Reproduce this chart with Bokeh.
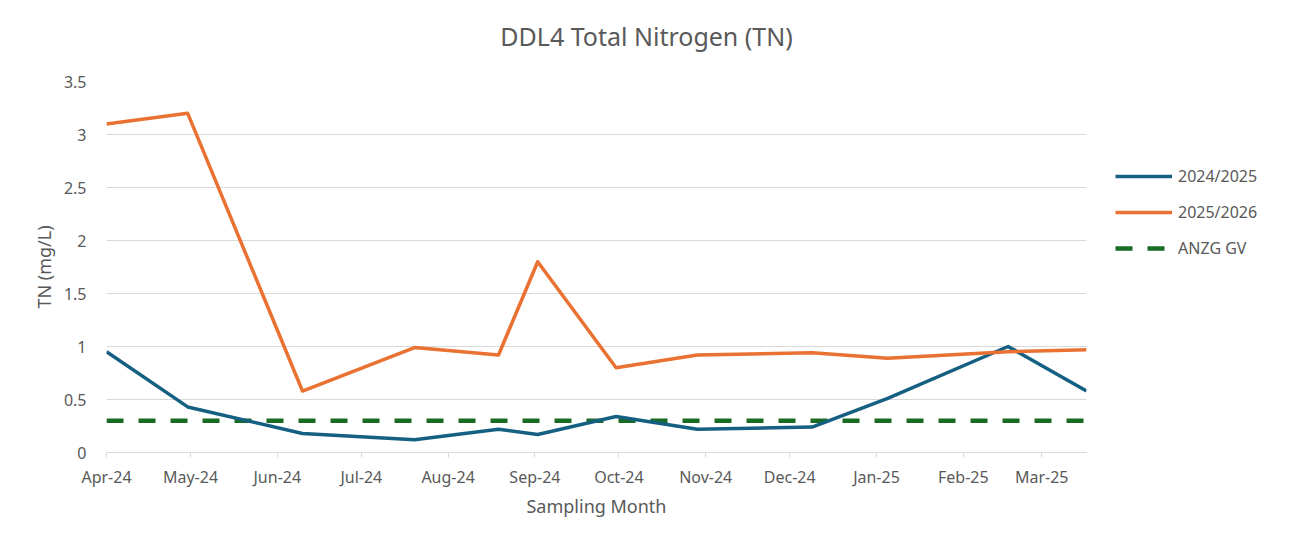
from datetime import datetime
from bokeh.plotting import figure
from bokeh.models import (ColumnDataSource, Range1d, FixedTicker, DatetimeTickFormatter,
                          NumeralTickFormatter, Legend, LegendItem, Label)
from bokeh.embed import file_html
from bokeh.resources import INLINE

# ---------------- data ----------------
sample_dates = ["2024-04-01", "2024-04-30", "2024-06-10", "2024-07-20", "2024-08-19",
                "2024-09-02", "2024-09-30", "2024-10-29", "2024-12-09", "2025-01-05",
                "2025-02-17", "2025-03-17"]
tn_2024_2025 = [0.95, 0.43, 0.18, 0.12, 0.22, 0.17, 0.34, 0.22, 0.24, 0.51, 1.00, 0.58]
tn_2025_2026 = [3.10, 3.20, 0.58, 0.99, 0.92, 1.80, 0.80, 0.92, 0.94, 0.89, 0.95, 0.97]
anzg_gv = 0.3
month_ticks = ["2024-04-01", "2024-05-01", "2024-06-01", "2024-07-01", "2024-08-01",
               "2024-09-01", "2024-10-01", "2024-11-01", "2024-12-01", "2025-01-01",
               "2025-02-01", "2025-03-01"]
y_ticks = [0, 0.5, 1, 1.5, 2, 2.5, 3, 3.5]

series_names = ["2024/2025", "2025/2026", "ANZG GV"]
title_text = "DDL4 Total Nitrogen (TN)"
x_title = "Sampling Month"
y_title = "TN (mg/L)"

# ---------------- helpers ----------------
def to_dt(s):
    return datetime.strptime(s, "%Y-%m-%d")

def to_ms(s):
    d = to_dt(s)
    return (d - datetime(1970, 1, 1)).total_seconds() * 1000.0

dates = [to_dt(s) for s in sample_dates]
src = ColumnDataSource(dict(
    date=dates,
    tn_a=tn_2024_2025,
    tn_b=tn_2025_2026,
    gv=[anzg_gv] * len(dates),
))

FONT = "Noto Sans"
TXT = "#595959"
GRID = "#D9D9D9"
BLUE = "#156082"
ORANGE = "#E97132"
GREEN = "#196B24"

p = figure(
    x_axis_type="datetime",
    frame_width=980, frame_height=371,
    min_border_left=106, min_border_right=188, min_border_top=81, min_border_bottom=85,
    x_range=Range1d(dates[0], dates[-1]),
    y_range=Range1d(0, 3.5),
    output_backend="svg", toolbar_location=None,
    background_fill_color="white", border_fill_color="white",
)
p.outline_line_color = None

# title, placed in the panel above the plot area, centred on the whole chart
p.add_layout(Label(x=540, y=46, x_units="screen", y_units="screen", text=title_text,
                   text_font=FONT, text_font_size="25px", text_color=TXT,
                   text_align="center", text_baseline="middle"), "above")

# lines
r_gv = p.line("date", "gv", source=src, line_color=GREEN, line_width=4.5, line_dash="17 15")
r_a = p.line("date", "tn_a", source=src, line_color=BLUE, line_width=3.5, line_join="round")
r_b = p.line("date", "tn_b", source=src, line_color=ORANGE, line_width=3.5, line_join="round")

# x axis
xa = p.xaxis[0]
xa.ticker = FixedTicker(ticks=[to_ms(s) for s in month_ticks])
fmt = "%b-%y"
xa.formatter = DatetimeTickFormatter(days=fmt, months=fmt, years=fmt, hours=fmt,
                                     hourmin=fmt, minutes=fmt, minsec=fmt,
                                     seconds=fmt, milliseconds=fmt, microseconds=fmt)
xa.axis_line_color = GRID
xa.major_tick_line_color = GRID
xa.major_tick_out = 5
xa.major_tick_in = 0
xa.minor_tick_line_color = None
xa.major_label_text_font = FONT
xa.major_label_text_font_size = "16px"
xa.major_label_text_color = TXT
xa.major_label_standoff = 8
xa.axis_label = x_title
xa.axis_label_text_font = FONT
xa.axis_label_text_font_size = "18px"
xa.axis_label_text_font_style = "normal"
xa.axis_label_text_color = TXT
xa.axis_label_standoff = 3

# y axis
ya = p.yaxis[0]
ya.ticker = FixedTicker(ticks=y_ticks)
ya.formatter = NumeralTickFormatter(format="0.[0]")
ya.axis_line_color = None
ya.major_tick_line_color = None
ya.minor_tick_line_color = None
ya.major_label_text_font = FONT
ya.major_label_text_font_size = "16px"
ya.major_label_text_color = TXT
ya.major_label_standoff = 14
ya.axis_label = y_title
ya.axis_label_text_font = FONT
ya.axis_label_text_font_size = "18px"
ya.axis_label_text_font_style = "normal"
ya.axis_label_text_color = TXT
ya.axis_label_standoff = 5

# grid
p.xgrid.grid_line_color = None
p.ygrid.grid_line_color = GRID
p.ygrid.grid_line_width = 1

# legend (in the right-hand panel)
legend = Legend(items=[LegendItem(label=series_names[0], renderers=[r_a]),
                       LegendItem(label=series_names[1], renderers=[r_b]),
                       LegendItem(label=series_names[2], renderers=[r_gv])],
                location=(29, 193), orientation="vertical",
                padding=0, margin=0, spacing=14,
                glyph_width=57, glyph_height=20, label_height=20, label_standoff=6,
                label_text_font=FONT, label_text_font_size="16px", label_text_color=TXT,
                border_line_color=None, background_fill_alpha=0)
p.add_layout(legend, "right")

open("out.html", "w").write(file_html(p, INLINE))
